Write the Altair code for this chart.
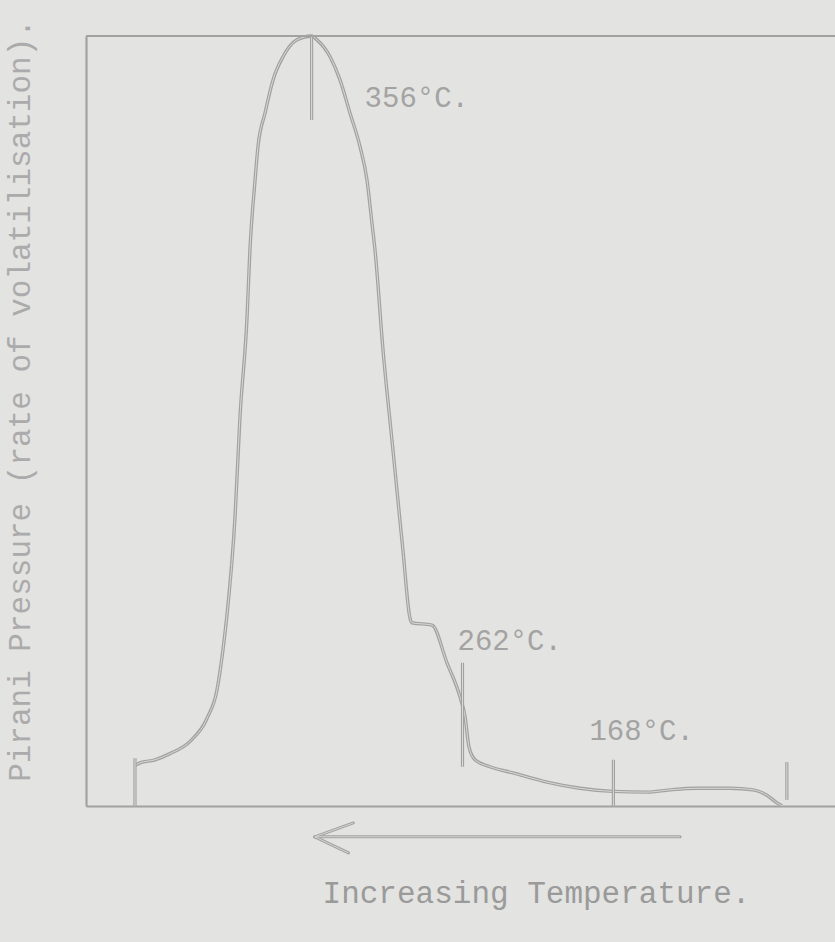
import altair as alt
import pandas as pd

# ---- data (temperature in deg C, Pirani pressure in arbitrary units 0-100)
curve_T = [466.0, 462.9, 453.5, 444.2, 431.7, 421.1, 414.9, 411.2, 408.7, 403.7, 400.6,
           396.2, 394.4, 391.2, 389.4, 385.0, 380.0, 373.8, 365.1, 356.0,
           352.6, 344.5, 338.3, 332.1, 325.8, 321.5, 318.4, 316.5,
           311.5, 305.3, 299.1, 294.7, 293.5, 281.0, 271.7, 263.6,
           260.4, 258.0, 254.2, 244.9, 230.6, 209.4, 188.8, 168.3, 147.1, 132.8, 116.0,
           95.4, 81.1, 72.4, 66.1, 63.0]
curve_P = [5.3, 5.6, 6.0, 6.8, 8.4, 11.4, 15.1, 20.3, 24.8, 37.5, 50.5,
           63.5, 72.2, 81.3, 85.6, 90.0, 94.3, 97.3, 99.5, 100.0,
           99.5, 97.3, 94.3, 90.0, 85.6, 81.3, 75.7, 72.2,
           59.2, 46.2, 33.2, 24.4, 23.8, 23.5, 18.6, 14.2,
           11.6, 7.7, 6.0, 5.1, 4.3, 3.1, 2.3, 1.9, 1.8, 2.1, 2.3,
           2.3, 2.1, 1.4, 0.4, 0.0]

tick_T = [466, 356, 262, 168, 60]
tick_P_top = [6.2, 100.0, 18.6, 6.0, 5.7]
tick_P_bottom = [0.0, 89.1, 5.1, 0.0, 0.8]

label_T = [356, 262, 168]
label_P = [100.0, 18.6, 6.0]
label_text = ["356°C.", "262°C.", "168°C."]

arrow_T_start = [126.5, 354.0, 354.0]
arrow_T_end = [354.0, 330.0, 333.0]
arrow_P_start = [-4.0, -4.0, -4.0]
arrow_P_end = [-4.0, -2.2, -6.1]

# ---- styling
BG = "#e3e3e1"
INK = "#a2a2a2"
INK_LIGHT = "#d9d9d7"
TEXT = "#a3a3a3"
FONT = "Liberation Mono"

xs = alt.Scale(domain=[30, 496.5], reverse=True, nice=False, zero=False)
ys = alt.Scale(domain=[0, 100], nice=False, zero=False)

x_ax = alt.Axis(title="Increasing Temperature.", labels=False, ticks=False, grid=False,
                domainColor=INK, domainWidth=2.2,
                titleFont=FONT, titleFontSize=31, titleFontWeight="normal", titleColor="#9a9a9a",
                titleX=450, titleY=87, titleAlign="center", titleBaseline="middle")
y_ax = alt.Axis(title="Pirani Pressure (rate of volatilisation).", labels=False, ticks=False,
                grid=False, domainColor=INK, domainWidth=2.2,
                titleFont=FONT, titleFontSize=31, titleFontWeight="normal", titleColor="#ababab",
                titleX=-66, titleY=364, titleAngle=270, titleAlign="center", titleBaseline="middle")

curve = pd.DataFrame({"T": curve_T, "P": curve_P, "order": range(len(curve_T))})
ticks = pd.DataFrame({"T": tick_T, "P": tick_P_bottom, "P2": tick_P_top})
labels = pd.DataFrame({"T": label_T, "P": label_P, "text": label_text})
arrow = pd.DataFrame({"T": arrow_T_start, "T2": arrow_T_end, "P": arrow_P_start, "P2": arrow_P_end})

X = alt.X("T:Q", scale=xs, axis=x_ax)
Y = alt.Y("P:Q", scale=ys, axis=y_ax)

curve_outer = alt.Chart(curve).mark_line(color=INK, strokeWidth=3.4, interpolate="monotone").encode(
    x=X, y=Y, order="order:Q")
curve_inner = alt.Chart(curve).mark_line(color=INK_LIGHT, strokeWidth=1.0, interpolate="monotone").encode(
    x=X, y=Y, order="order:Q")

tick_outer = alt.Chart(ticks).mark_rule(color=INK, strokeWidth=3.2).encode(x=X, y=Y, y2="P2:Q")
tick_inner = alt.Chart(ticks).mark_rule(color=INK_LIGHT, strokeWidth=1.0).encode(x=X, y=Y, y2="P2:Q")

top_line = alt.Chart(ticks).mark_rule(color=INK, strokeWidth=2.2).encode(
    x=alt.value(0), x2=alt.value(749), y=alt.value(0))

arrow_outer = alt.Chart(arrow).mark_rule(color=INK, strokeWidth=3.0, strokeCap="round").encode(
    x=X, x2="T2:Q", y=Y, y2="P2:Q")
arrow_inner = alt.Chart(arrow).mark_rule(color=INK_LIGHT, strokeWidth=0.9).encode(
    x=X, x2="T2:Q", y=Y, y2="P2:Q")

offsets = {"356°C.": (53, 62), "262°C.": (-5, -22), "168°C.": (-24, -29)}
text_layers = []
for txt, (dx, dy) in offsets.items():
    text_layers.append(
        alt.Chart(labels[labels["text"] == txt]).mark_text(
            font=FONT, fontSize=29, color=TEXT, align="left", baseline="middle", dx=dx, dy=dy
        ).encode(x=X, y=Y, text="text:N")
    )

chart = alt.layer(
    curve_outer, curve_inner, tick_outer, tick_inner, top_line, arrow_outer, arrow_inner, *text_layers
).properties(
    width=749, height=770,
    padding={"left": 86, "top": 36, "right": 0, "bottom": 136},
    autosize=alt.AutoSizeParams(type="none"),
    background=BG,
).configure_view(strokeWidth=0)

chart.save("out.html", embed_options={"renderer": "svg", "actions": False})
